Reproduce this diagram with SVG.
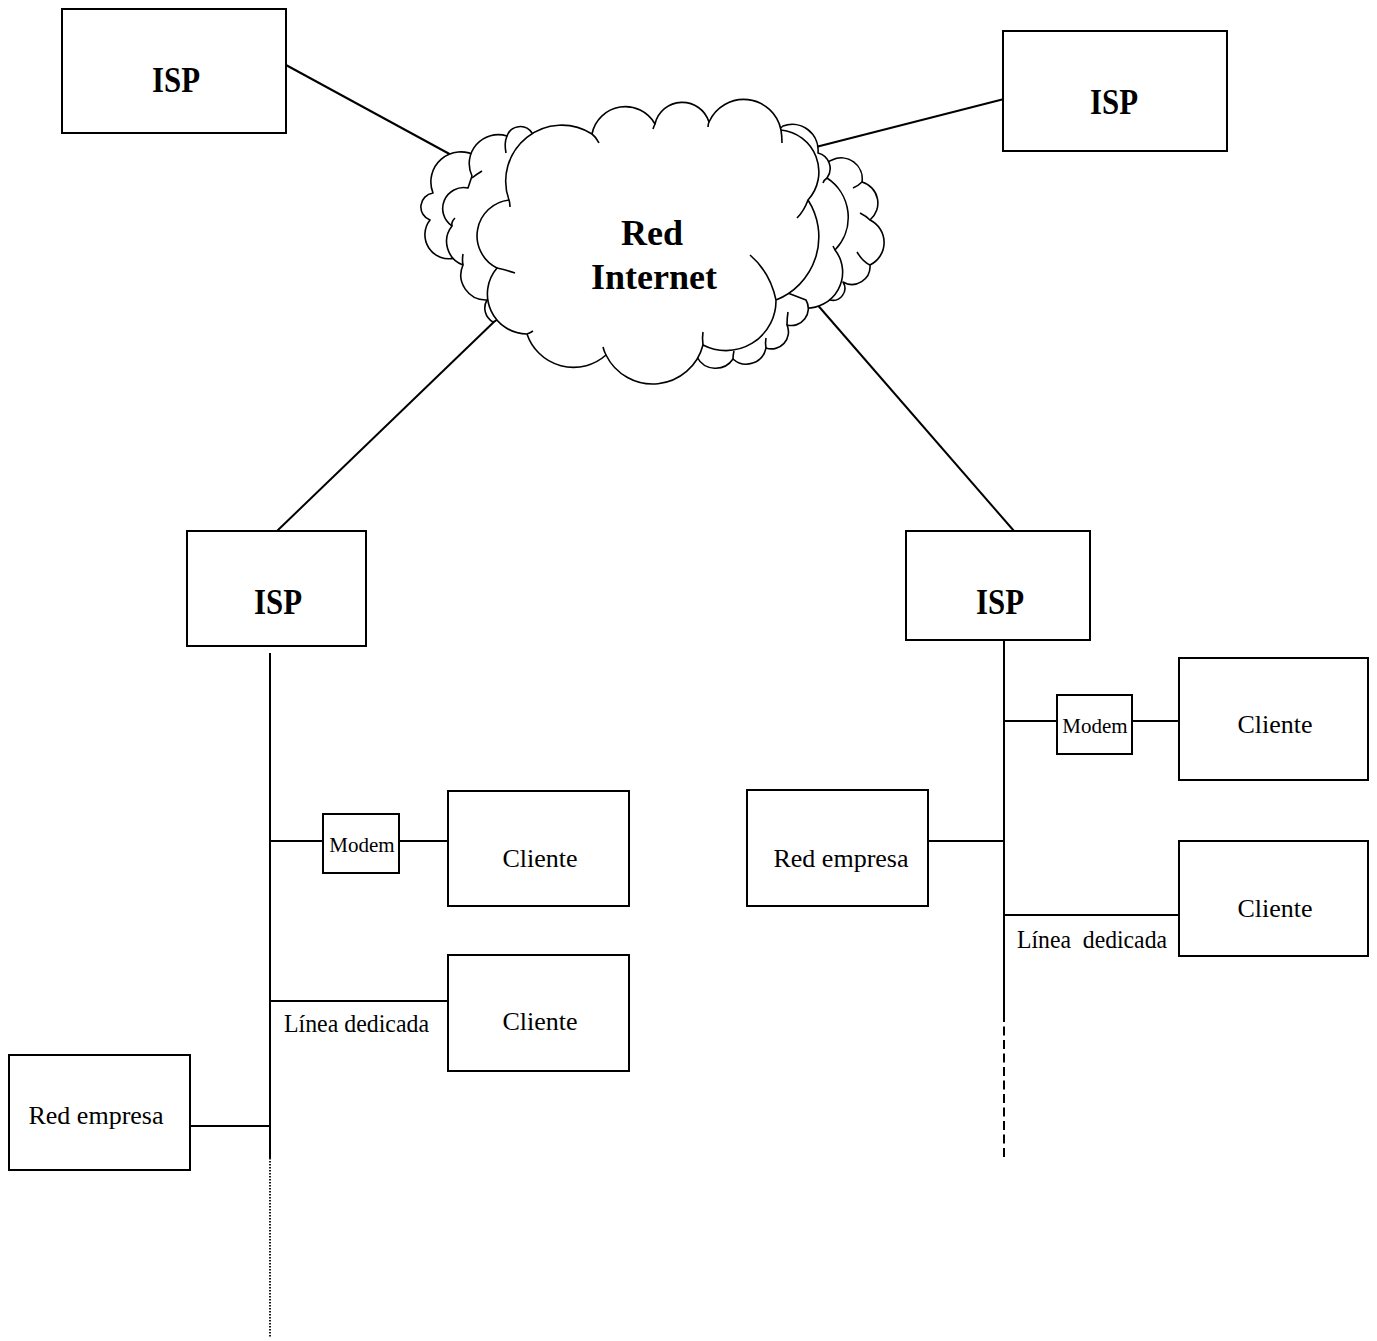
<svg xmlns="http://www.w3.org/2000/svg" width="1377" height="1341" viewBox="0 0 1377 1341">
  <style>
    .box { fill: #fff; stroke: #000; stroke-width: 2; }
    .wire { fill: none; stroke: #000; stroke-width: 2; }
    .puff { fill: #fff; stroke: #000; stroke-width: 1.6; stroke-linejoin: round; }
    .curl { fill: none; stroke: #000; stroke-width: 1.6; }
    text { font-family: "Liberation Serif", "Times New Roman", serif; fill: #000; }
    .big { font-size: 35px; font-weight: bold; text-anchor: middle; }
    .cloudtxt { font-size: 36px; font-weight: bold; text-anchor: middle; }
    .lbl { font-size: 26px; text-anchor: middle; }
    .small { font-size: 21px; text-anchor: middle; }
    .wl { font-size: 26px; }
  </style>
  <rect width="1377" height="1341" fill="#fff"/>

  <!-- connectors -->
  <g id="connectors">
    <line class="wire" x1="286" y1="65" x2="455" y2="157"/>
    <line class="wire" x1="1008" y1="98" x2="812" y2="148"/>
    <line class="wire" x1="498" y1="318" x2="277" y2="531"/>
    <line class="wire" x1="815" y1="302" x2="1014" y2="531"/>

    <!-- left distribution line -->
    <line class="wire" x1="270" y1="653" x2="270" y2="1158"/>
    <line x1="270" y1="1158" x2="270" y2="1338" stroke="#000" stroke-width="1.8" stroke-dasharray="1.5 1.5"/>
    <line class="wire" x1="270" y1="841" x2="323" y2="841"/>
    <line class="wire" x1="399" y1="841" x2="448" y2="841"/>
    <line class="wire" x1="270" y1="1001" x2="448" y2="1001"/>
    <line class="wire" x1="190" y1="1126" x2="270" y2="1126"/>
    <text class="wl" x="284" y="1032" textLength="145" lengthAdjust="spacingAndGlyphs">Línea dedicada</text>

    <!-- right distribution line -->
    <line class="wire" x1="1004" y1="640" x2="1004" y2="1013"/>
    <line class="wire" x1="1004" y1="1013" x2="1004" y2="1157" stroke-dasharray="9 4.5"/>
    <line class="wire" x1="1004" y1="721" x2="1057" y2="721"/>
    <line class="wire" x1="1132" y1="721" x2="1179" y2="721"/>
    <line class="wire" x1="928" y1="841" x2="1004" y2="841"/>
    <line class="wire" x1="1004" y1="915" x2="1179" y2="915"/>
    <text class="wl" x="1017" y="948" xml:space="preserve" textLength="150" lengthAdjust="spacingAndGlyphs">Línea  dedicada</text>
  </g>

  <!-- internet cloud: rear layers first, front cloud last -->
  <g id="internet">
    <!-- far left layer -->
    <path class="puff" d="M650,240 L455,258 A24,24 0 0 1 430,220 A14,14 0 0 1 433,193 A30,30 0 0 1 476,156 Z"/>
    <!-- middle left layer -->
    <path class="puff" d="M650,240 L493,322 A16,16 0 0 1 487,300 A25,25 0 0 1 463,265 A25,25 0 0 1 452,226 A21,21 0 0 1 468,188 L472,176 A29,29 0 0 1 507,136 A14,14 0 0 1 532,133 L540,140 Z"/>
    <path class="curl" d="M482,171 Q477,174 472,178"/>
    <path class="curl" d="M506,153 Q504,143 507,136"/>
    <path class="curl" d="M452,226 Q451,222 455,218"/>
    <path class="curl" d="M463,265 Q462,260 463,254"/>
    <!-- far right layer -->
    <path class="puff" d="M650,240 L832,160 A21,21 0 0 1 862,182 A22,22 0 0 1 870,220 A25,25 0 0 1 870,265 A18,18 0 0 1 843,282 A12,12 0 0 1 830,300 Z"/>
    <path class="curl" d="M862,182 Q858,186 853,188"/>
    <path class="curl" d="M870,220 Q866,216 860,213"/>
    <path class="curl" d="M870,265 Q863,262 857,252"/>
    <!-- middle right layer -->
    <path class="puff" d="M650,240 L783,126 A26,26 0 0 1 818,153 A16,16 0 0 1 827,178 A47,47 0 0 1 835,250 A36,36 0 0 1 803,308 Z"/>
    <path class="curl" d="M827,178 Q824,180 823,183"/>
    <path class="curl" d="M835,250 Q834,248 833,246"/>
    <!-- bottom layer -->
    <path class="puff" d="M650,240 L806,300 A17,17 0 0 1 787,325 A17,17 0 0 1 766,348 A20,20 0 0 1 733,359 A21,21 0 0 1 697,357 Z"/>
    <path class="curl" d="M787,325 Q787,318 788,312"/>
    <path class="curl" d="M766,348 Q765,343 766,338"/>
    <path class="curl" d="M733,359 Q733,355 734,351"/>

    <!-- front cloud -->
    <path class="puff" d="M509,200 A56,56 0 0 1 592,134 A34,34 0 0 1 655,124 A28,28 0 0 1 709,122 A38,38 0 0 1 781,130 A42,42 0 0 1 808,200 A68,68 0 0 1 776,300 A50,50 0 0 1 703,345 A52,52 0 0 1 606,355 A49,49 0 0 1 527,334 A40,40 0 0 1 497,268 A36,36 0 0 1 509,200 Z"/>
    <path class="curl" d="M592,134 Q596,137 599,143"/>
    <path class="curl" d="M655,124 Q654,126 653,129"/>
    <path class="curl" d="M709,122 Q708,124 708,127"/>
    <path class="curl" d="M781,130 Q782,136 782,143"/>
    <path class="curl" d="M808,200 Q804,211 797,218"/>
    <path class="curl" d="M750,255 Q770,272 776,300"/>
    <path class="curl" d="M703,345 Q702,338 703,332"/>
    <path class="curl" d="M606,355 Q604,351 603,347"/>
    <path class="curl" d="M527,334 Q530,333 533,331"/>
    <path class="curl" d="M497,268 Q506,270 515,273"/>
    <path class="curl" d="M509,200 Q510,203 510,207"/>

    <text class="cloudtxt" x="652" y="245">Red</text>
    <text class="cloudtxt" x="654" y="289">Internet</text>
  </g>

  <!-- providers -->
  <g id="isp-top-left">
    <rect class="box" x="62" y="9" width="224" height="124"/>
    <text class="big" x="176" y="92" textLength="48" lengthAdjust="spacingAndGlyphs">ISP</text>
  </g>
  <g id="isp-top-right">
    <rect class="box" x="1003" y="31" width="224" height="120"/>
    <text class="big" x="1114" y="114" textLength="48" lengthAdjust="spacingAndGlyphs">ISP</text>
  </g>
  <g id="isp-left">
    <rect class="box" x="187" y="531" width="179" height="115"/>
    <text class="big" x="278" y="614" textLength="48" lengthAdjust="spacingAndGlyphs">ISP</text>
  </g>
  <g id="isp-right">
    <rect class="box" x="906" y="531" width="184" height="109"/>
    <text class="big" x="1000" y="614" textLength="48" lengthAdjust="spacingAndGlyphs">ISP</text>
  </g>

  <!-- left branch -->
  <g id="modem-left">
    <rect class="box" x="323" y="814" width="76" height="59"/>
    <text class="small" x="362" y="852">Modem</text>
  </g>
  <g id="cliente-left-1">
    <rect class="box" x="448" y="791" width="181" height="115"/>
    <text class="lbl" x="540" y="867">Cliente</text>
  </g>
  <g id="cliente-left-2">
    <rect class="box" x="448" y="955" width="181" height="116"/>
    <text class="lbl" x="540" y="1030">Cliente</text>
  </g>
  <g id="red-empresa-left">
    <rect class="box" x="9" y="1055" width="181" height="115"/>
    <text class="lbl" x="96" y="1124">Red empresa</text>
  </g>

  <!-- right branch -->
  <g id="modem-right">
    <rect class="box" x="1057" y="695" width="75" height="59"/>
    <text class="small" x="1095" y="733">Modem</text>
  </g>
  <g id="cliente-right-1">
    <rect class="box" x="1179" y="658" width="189" height="122"/>
    <text class="lbl" x="1275" y="733">Cliente</text>
  </g>
  <g id="cliente-right-2">
    <rect class="box" x="1179" y="841" width="189" height="115"/>
    <text class="lbl" x="1275" y="917">Cliente</text>
  </g>
  <g id="red-empresa-right">
    <rect class="box" x="747" y="790" width="181" height="116"/>
    <text class="lbl" x="841" y="867">Red empresa</text>
  </g>
</svg>
